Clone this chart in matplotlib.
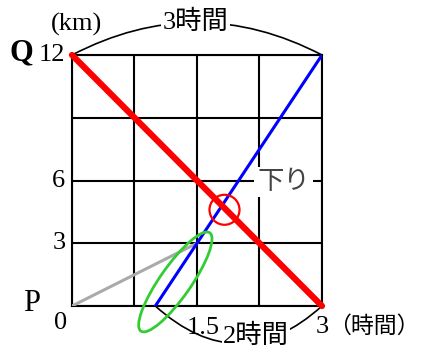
import numpy as np
import matplotlib.pyplot as plt
from matplotlib.patches import Ellipse, Circle
from matplotlib.transforms import ScaledTranslation

plt.rcParams['font.family'] = ['Liberation Serif', 'Noto Sans CJK JP']

# データ（時間, km）
down_t = [0, 3]      # 下り（Q→P）
down_km = [12, 0]
up_t = [1, 3]        # 上り（P→Q）
up_km = [0, 12]
walk_t = [0, 1.5]    # 灰色の線
walk_km = [0, 3]

x_grid = [0, 0.75, 1.5, 2.25, 3]
y_grid = [0, 3, 6, 9, 12]
y_labels = ['3', '6', '12']
y_label_pos = [3, 6, 12]

cross = (1.83, 4.6)          # 赤い丸の中心
oval_center = (1.24, 1.15)   # 緑のだ円の中心

fig = plt.figure(figsize=(4.27, 3.51), dpi=100)
ax = fig.add_axes([72/427, 45/351, 250/427, 251/351])
ax.set_xlim(0, 3)
ax.set_ylim(0, 12)
ax.set_xticks(x_grid)
ax.set_yticks(y_grid)
ax.tick_params(length=0, labelbottom=False, labelleft=False)
ax.grid(True, color='black', linewidth=1.5)
for s in ax.spines.values():
    s.set_linewidth(1.5)

ax.plot(walk_t, walk_km, color='#aaaaaa', lw=2.2, zorder=3)
ax.plot(up_t, up_km, color='#0000ff', lw=2.2, zorder=4)
ax.plot(down_t, down_km, color='#ff0000', lw=4.5, solid_capstyle='round',
        zorder=5, clip_on=False)

# 赤い丸
ax.add_patch(Circle((0, 0), 0.15, transform=fig.dpi_scale_trans +
                    ScaledTranslation(*cross, ax.transData),
                    fill=False, ec='red', lw=1.6, zorder=6))
# 緑のだ円
ax.add_patch(Ellipse((0, 0), 1.2, 0.31, angle=55,
                     transform=fig.dpi_scale_trans +
                     ScaledTranslation(*oval_center, ax.transData),
                     fill=False, ec='#33cc33', lw=2.0, zorder=6, clip_on=False))

# 弧
ax.annotate('', xy=(3, 12), xytext=(0, 12),
            arrowprops=dict(arrowstyle='-', connectionstyle='arc3,rad=-0.26',
                            shrinkA=0, shrinkB=0, lw=1.2), annotation_clip=False)
ax.annotate('', xy=(3, 0), xytext=(1, 0),
            arrowprops=dict(arrowstyle='-', connectionstyle='arc3,rad=0.45',
                            shrinkA=0, shrinkB=0, lw=1.2), annotation_clip=False)

fs = 19
wb = dict(facecolor='white', edgecolor='none', pad=1)
for lab, y in zip(y_labels, y_label_pos):
    ax.text(-0.08, y, lab, ha='right', va='center', fontsize=fs)
ax.text(-0.14, -0.8, '0', ha='center', va='center', fontsize=fs)
ax.text(1.57, -1.05, '1.5', ha='center', va='center', fontsize=fs, zorder=7)
ax.text(2.93, -1.0, '3', ha='left', va='center', fontsize=fs)
ax.text(3.07, -1.0, '（時間）', ha='left', va='center', fontsize=16.5)
ax.text(2.21, -1.45, '2時間', ha='center', va='center', fontsize=fs, bbox=wb, zorder=7)
ax.text(1.48, 13.6, '3時間', ha='center', va='center', fontsize=fs, bbox=wb, zorder=7)
ax.text(0.05, 13.45, '(km)', ha='center', va='center', fontsize=fs)
ax.text(-0.61, 12.1, 'Q', ha='center', va='center', fontsize=22, fontweight='bold')
ax.text(-0.49, 0.1, 'P', ha='center', va='center', fontsize=22)
ax.text(2.54, 5.93, '下り', ha='center', va='center', fontsize=fs, color='#444444',
        bbox=dict(facecolor='white', edgecolor='none', pad=2), zorder=7)

fig.savefig('out.png', dpi=100)
